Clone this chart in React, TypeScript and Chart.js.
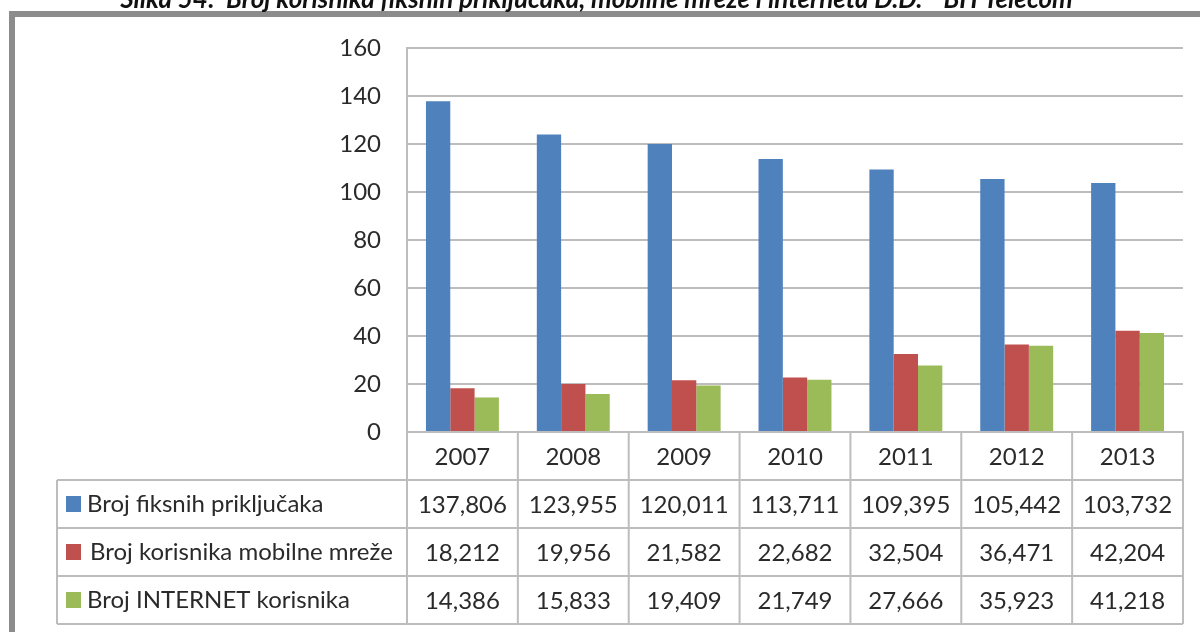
import React, { useEffect, useRef } from 'react';
import { Chart, registerables } from 'chart.js';

Chart.register(...registerables);

const TITLE = 'Slika 54:  Broj korisnika fiksnih priključaka, mobilne mreže i interneta D.D.  "BH Telecom"';
const years = ['2007', '2008', '2009', '2010', '2011', '2012', '2013'];
const seriesNames = ['Broj fiksnih priključaka', 'Broj korisnika mobilne mreže', 'Broj INTERNET korisnika'];
// values in thousands
const fixedLines = [137.806, 123.955, 120.011, 113.711, 109.395, 105.442, 103.732];
const mobileUsers = [18.212, 19.956, 21.582, 22.682, 32.504, 36.471, 42.204];
const internetUsers = [14.386, 15.833, 19.409, 21.749, 27.666, 35.923, 41.218];
const yMin = 0;
const yMax = 160;
const yStep = 20;

const seriesValues = [fixedLines, mobileUsers, internetUsers];
const seriesColors = ['#4f81bd', '#c0504d', '#9bbb59'];

const FONT = 'Lato, "Noto Sans", sans-serif';
const TEXT = '#2a2a2a';
const LINE = '#bdbdbd';

const fmt = (v: number) => Math.round(v * 1000).toLocaleString('en-US');

const tablePlugin = {
  id: 'dataTable',
  beforeDraw(chart: any) {
    const ctx = chart.ctx;
    ctx.save();
    // outer frame
    ctx.fillStyle = '#8c8c8c';
    ctx.fillRect(9, 11, chart.width - 9, 6);
    ctx.fillRect(9, 11, 6, chart.height - 11);
    // caption (cut at top)
    ctx.fillStyle = '#111';
    ctx.font = `bold italic 26px ${FONT}`;
    ctx.textAlign = 'center';
    ctx.textBaseline = 'alphabetic';
    ctx.fillText(TITLE, 601, 8);
    ctx.restore();
  },
  afterDraw(chart: any) {
    const ctx = chart.ctx;
    const x = chart.scales.x;
    const area = chart.chartArea;
    const step = x.getPixelForValue(1) - x.getPixelForValue(0);
    const tableLeft = 57;
    const headerTop = area.bottom;
    const rowH = 48;
    const headerBottom = headerTop + rowH;
    const bottom = headerBottom + rowH * seriesNames.length;
    const right = x.getPixelForValue(years.length - 1) + step / 2;

    ctx.save();
    ctx.strokeStyle = LINE;
    ctx.lineWidth = 2;
    ctx.beginPath();
    for (let r = 0; r <= seriesNames.length; r++) {
      const y = headerBottom + r * rowH;
      ctx.moveTo(tableLeft, y);
      ctx.lineTo(right, y);
    }
    ctx.moveTo(tableLeft, headerBottom);
    ctx.lineTo(tableLeft, bottom);
    for (let i = 0; i <= years.length; i++) {
      const xx = x.getPixelForValue(0) - step / 2 + i * step;
      ctx.moveTo(xx, headerTop);
      ctx.lineTo(xx, bottom);
    }
    ctx.stroke();

    ctx.font = `24px ${FONT}`;
    ctx.fillStyle = TEXT;
    ctx.textBaseline = 'middle';
    seriesNames.forEach((name, r) => {
      const cy = headerBottom + r * rowH + rowH / 2;
      ctx.fillStyle = seriesColors[r];
      ctx.fillRect(66, cy - 8, 15, 16);
      ctx.fillStyle = TEXT;
      ctx.textAlign = 'left';
      ctx.fillText(name, r === 1 ? 90 : 87, cy);
      ctx.textAlign = 'center';
      seriesValues[r].forEach((v, i) => {
        ctx.fillText(fmt(v), x.getPixelForValue(i), cy + 1);
      });
    });
    ctx.restore();
  },
};

export default function App() {
  const ref = useRef<HTMLCanvasElement | null>(null);
  useEffect(() => {
    if (!ref.current) return;
    const chart = new Chart(ref.current, {
      type: 'bar',
      data: {
        labels: years,
        datasets: seriesNames.map((n, i) => ({
          label: n,
          data: seriesValues[i],
          backgroundColor: seriesColors[i],
          borderWidth: 0,
          barPercentage: 1,
          categoryPercentage: 0.658,
        })),
      },
      options: {
        responsive: false,
        animation: false,
        devicePixelRatio: 1,
        layout: { padding: { left: 0, top: 48, right: 17, bottom: 0 } },
        plugins: { legend: { display: false }, tooltip: { enabled: false }, title: { display: false } },
        scales: {
          x: {
            afterFit: (s: any) => { s.height = 200; },
            grid: { display: false, drawTicks: false },
            border: { display: true, color: LINE, width: 2 },
            ticks: { font: { family: FONT, size: 24 }, color: TEXT, padding: 11 },
          },
          y: {
            min: yMin,
            max: yMax,
            afterFit: (s: any) => { s.width = 407; },
            grid: { color: LINE, lineWidth: 2, drawTicks: false },
            border: { display: true, color: LINE, width: 2 },
            ticks: { stepSize: yStep, font: { family: FONT, size: 24 }, color: TEXT, padding: 26 },
          },
        },
      },
      plugins: [tablePlugin],
    });
    return () => chart.destroy();
  }, []);
  return (
    <div style={{ position: 'fixed', left: 0, top: 0, width: 1200, height: 632, background: '#fff', overflow: 'hidden' }}>
      <canvas ref={ref} width={1200} height={632} style={{ display: 'block', width: 1200, height: 632 }} />
    </div>
  );
}
